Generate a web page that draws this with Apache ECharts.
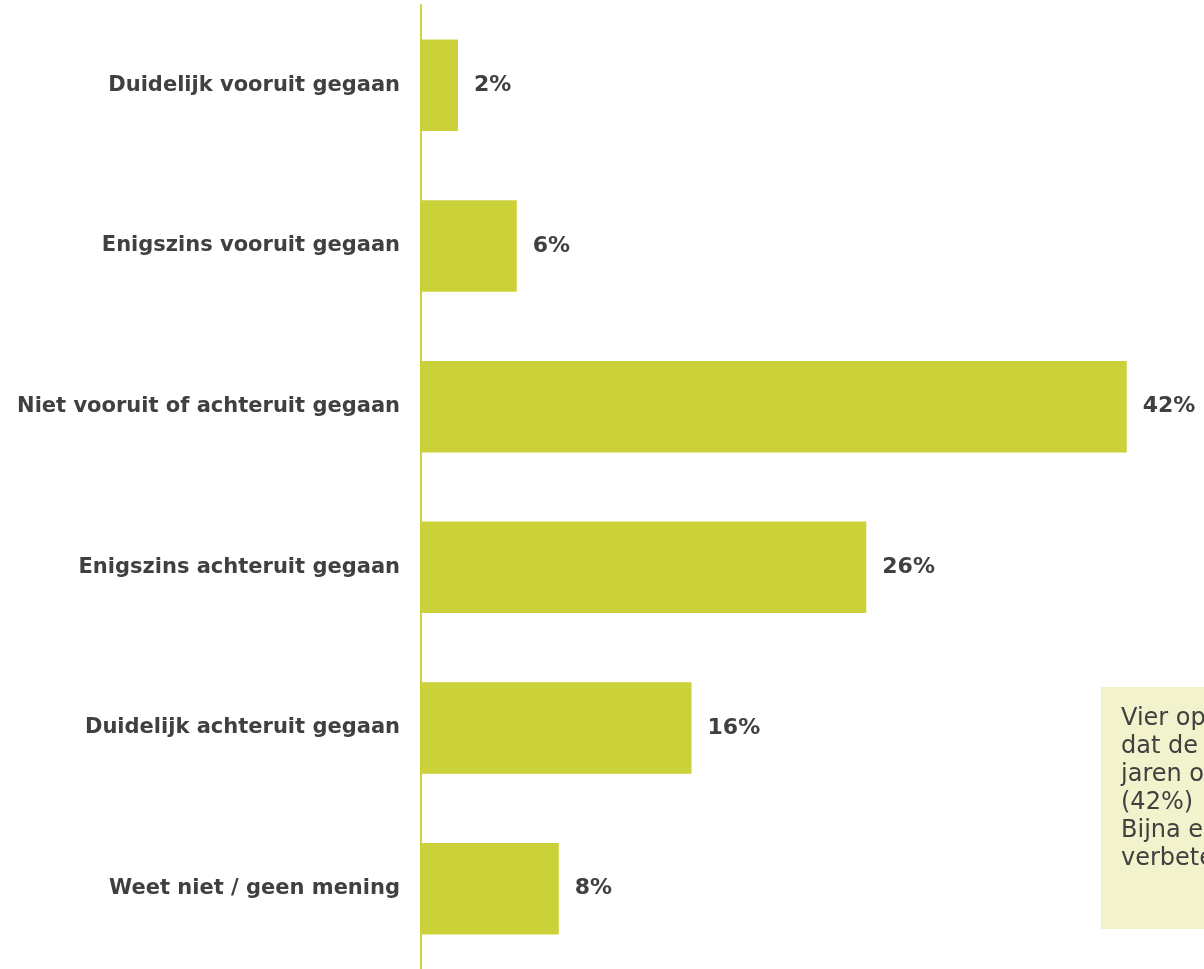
<!DOCTYPE html>
<html>
<head>
<meta charset="utf-8">
<script src="https://cdn.jsdelivr.net/npm/echarts@6/dist/echarts.min.js"></script>
<style>
html,body{margin:0;padding:0;background:#fff;}
#chart{width:1204px;height:969px;}
</style>
</head>
<body>
<div id="chart"></div>
<script>
var categories = [
  "Duidelijk vooruit gegaan",
  "Enigszins vooruit gegaan",
  "Niet vooruit of achteruit gegaan",
  "Enigszins achteruit gegaan",
  "Duidelijk achteruit gegaan",
  "Weet niet / geen mening"
];
var values = [2.2, 5.7, 42, 26.5, 16.1, 8.2];
var labels = ["2%", "6%", "42%", "26%", "16%", "8%"];
var noteLines = [
  "Vier op de tien Nederlanders vinden",
  "dat de economie de afgelopen",
  "jaren onveranderd is gebleven",
  "(42%)",
  "Bijna een kwart ziet een",
  "verbetering."
];

var chart = echarts.init(document.getElementById('chart'));
var font = 'DejaVu Sans';
chart.setOption({
  animation: false,
  grid: { left: 421, right: 0, top: 5, bottom: -4, containLabel: false },
  xAxis: {
    type: 'value', min: 0, max: 46.6,
    show: false
  },
  yAxis: {
    type: 'category', data: categories, inverse: true,
    axisLine: { show: true, lineStyle: { color: '#cbd138', width: 2 } },
    axisTick: { show: false },
    axisLabel: { color: '#404040', fontFamily: font, fontWeight: 'bold', fontSize: 21, margin: 21 }
  },
  series: [{
    type: 'bar',
    data: values,
    barWidth: '57%',
    itemStyle: { color: '#cbd138' },
    label: {
      show: true, position: 'right', distance: 16,
      color: '#404040', fontFamily: font, fontWeight: 'bold', fontSize: 22,
      formatter: function (p) { return labels[p.dataIndex]; }
    }
  }],
  graphic: [{
    type: 'group',
    left: 1101, top: 687,
    children: [
      { type: 'rect', shape: { x: 0, y: 0, width: 300, height: 242 }, style: { fill: '#f2f2cc' } },
      { type: 'text', x: 20, y: 18, style: { text: noteLines.join('\n'), fill: '#404040', fontFamily: 'DejaVu Sans', fontSize: 24, lineHeight: 28 } }
    ]
  }]
});
</script>
</body>
</html>
